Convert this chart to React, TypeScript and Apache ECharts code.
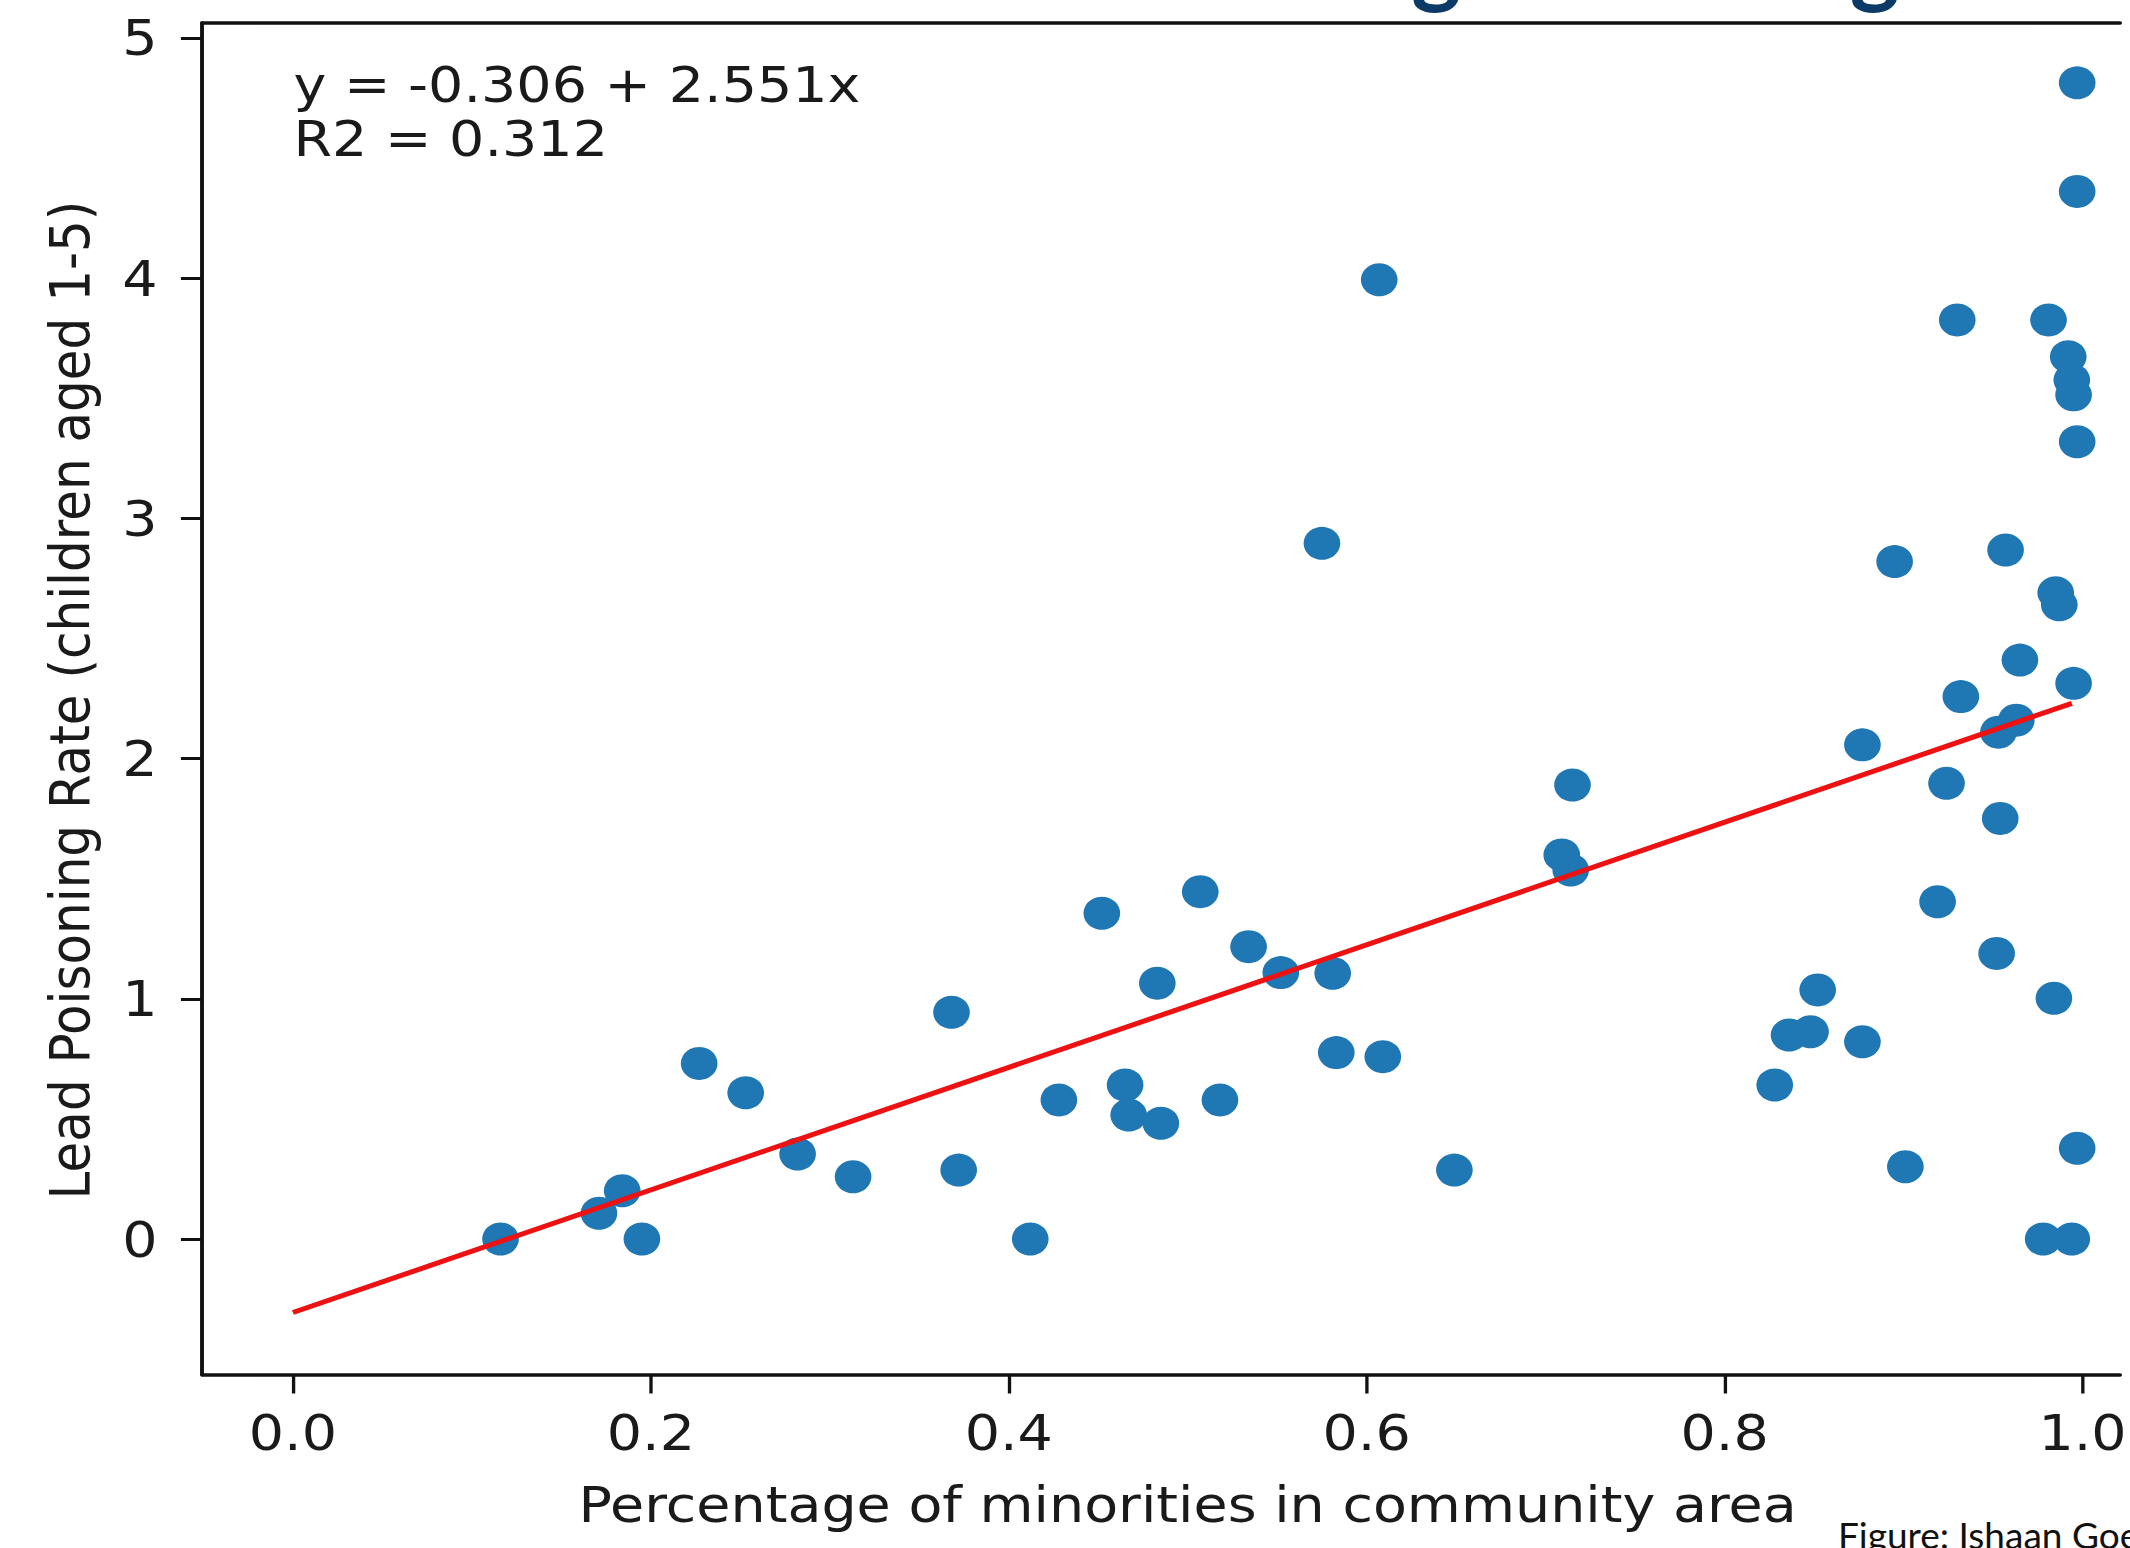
import React, { useEffect, useRef } from "react";
import * as echarts from "echarts";

// ---- data ----
const pctMinorities = [
  0.116, 0.171, 0.184, 0.195, 0.227, 0.253, 0.282, 0.313, 0.368, 0.372,
  0.412, 0.428, 0.452, 0.465, 0.467, 0.483, 0.485, 0.507, 0.518, 0.534,
  0.552, 0.575, 0.581, 0.583, 0.607, 0.609, 0.649, 0.709, 0.714, 0.715,
  0.828, 0.836, 0.848, 0.852, 0.877, 0.877, 0.895, 0.901, 0.919, 0.924,
  0.930, 0.932, 0.952, 0.953, 0.954, 0.957, 0.963, 0.965, 0.978, 0.981,
  0.984, 0.985, 0.987, 0.992, 0.994, 0.994, 0.995, 0.995, 0.997, 0.997,
  0.997, 0.997,
];
const leadRate = [
  0.0, 0.107, 0.201, 0.0, 0.731, 0.609, 0.354, 0.259, 0.944, 0.287,
  0.0, 0.579, 1.356, 0.641, 0.516, 1.065, 0.482, 1.446, 0.579, 1.217,
  1.109, 2.896, 1.106, 0.776, 3.993, 0.759, 0.287, 1.599, 1.536, 1.89,
  0.641, 0.849, 0.863, 1.037, 0.821, 2.057, 2.82, 0.301, 1.404, 1.897,
  3.826, 2.258, 1.189, 2.11, 1.751, 2.868, 2.16, 2.41, 0.0, 3.826,
  1.002, 2.69, 2.64, 3.673, 0.0, 3.576, 3.514, 2.313, 4.813, 4.361,
  3.319, 0.378,
];
// regression line end points (y = -0.306 + 2.551x)
const fitX = [0.0, 0.994];
const fitY = [-0.306, 2.23];

const xTicks = [0, 0.2, 0.4, 0.6, 0.8, 1.0];
const xTickLabels = ["0.0", "0.2", "0.4", "0.6", "0.8", "1.0"];
const yTicks = [0, 1, 2, 3, 4, 5];
const yTickLabels = ["0", "1", "2", "3", "4", "5"];

const xTitle = "Percentage of minorities in community area";
const yTitle = "Lead Poisoning Rate (children aged 1-5)";
const eqLine1 = "y = -0.306 + 2.551x";
const eqLine2 = "R2 = 0.312";
const caption = "Figure: Ishaan Goel";

// ---- layout ----
const W = 2130;
const H = 1548;
const S = 1.11; // horizontal stretch of the pasted figure
const CW = Math.round(W / S);

const labelFor = (ticks: number[], labels: string[]) => (v: number) => {
  const i = ticks.findIndex((t) => Math.abs(t - v) < 1e-6);
  return i >= 0 ? labels[i] : "";
};

export default function App() {
  const ref = useRef<HTMLDivElement>(null);

  useEffect(() => {
    if (!ref.current) return;
    const chart = echarts.init(ref.current, null, { renderer: "svg" });
    const font = "DejaVu Sans";
    const ink = "#1a1a1a";
    const axisLine = { show: true, onZero: false, lineStyle: { color: "#111", width: 3.5 } };
    const xMin = -0.0508;
    const xMax = 1.021;

    const option: any = {
      animation: false,
      backgroundColor: "#ffffff",
      grid: { left: 182, right: 0, top: 23, bottom: 173.5, containLabel: false },
      xAxis: [
        {
          type: "value",
          position: "bottom",
          min: xMin,
          max: xMax,
          axisLine,
          splitLine: { show: false },
          axisTick: {
            show: true,
            length: 19,
            customValues: xTicks,
            lineStyle: { color: "#111", width: 3 },
          },
          axisLabel: {
            customValues: xTicks,
            formatter: labelFor(xTicks, xTickLabels),
            fontFamily: font,
            fontSize: 50,
            color: ink,
            margin: 33,
          },
        },
        {
          type: "value",
          position: "top",
          min: xMin,
          max: xMax,
          axisLine,
          splitLine: { show: false },
          axisTick: { show: false },
          axisLabel: { show: false },
        },
      ],
      yAxis: {
        type: "value",
        min: -0.564,
        max: 5.062,
        axisLine,
        splitLine: { show: false },
        axisTick: {
          show: true,
          length: 19,
          customValues: yTicks,
          lineStyle: { color: "#111", width: 3 },
        },
        axisLabel: {
          customValues: yTicks,
          formatter: labelFor(yTicks, yTickLabels),
          fontFamily: font,
          fontSize: 50,
          color: ink,
          margin: 40,
        },
      },
      series: [
        {
          type: "scatter",
          xAxisIndex: 0,
          data: pctMinorities.map((x, i) => [x, leadRate[i]]),
          symbol: "circle",
          symbolSize: 33,
          itemStyle: { color: "#1f77b4", opacity: 1 },
          z: 2,
        },
        {
          type: "line",
          xAxisIndex: 0,
          data: fitX.map((x, i) => [x, fitY[i]]),
          symbol: "none",
          lineStyle: { color: "#ee1111", width: 5 },
          z: 3,
        },
      ],
      graphic: [
        {
          type: "text",
          x: 264.4,
          y: 84.7,
          style: { text: eqLine1, fontFamily: font, fontSize: 50, fill: ink, verticalAlign: "middle" },
        },
        {
          type: "text",
          x: 264.4,
          y: 138.7,
          style: { text: eqLine2, fontFamily: font, fontSize: 50, fill: ink, verticalAlign: "middle" },
        },
        {
          type: "text",
          x: 1070,
          y: 1504,
          style: { text: xTitle, fontFamily: font, fontSize: 50, fill: ink, align: "center", verticalAlign: "middle" },
        },
        {
          type: "text",
          x: 63,
          y: 700,
          rotation: Math.PI / 2,
          style: { text: yTitle, fontFamily: font, fontSize: 50, fill: ink, align: "center", verticalAlign: "middle" },
        },
        {
          type: "text",
          x: 1655.9,
          y: 1535,
          scaleX: 1 / S,
          style: { text: caption, fontFamily: "Lato", fontSize: 37, fill: "#111", verticalAlign: "middle" },
        },
        {
          type: "text",
          x: 1294,
          y: -41,
          scaleX: 1 / S,
          style: { text: "g", fontFamily: "Lato", fontWeight: "bold", fontSize: 95, fill: "#0b3a66", align: "center", verticalAlign: "middle" },
        },
        {
          type: "text",
          x: 1689,
          y: -41,
          scaleX: 1 / S,
          style: { text: "g", fontFamily: "Lato", fontWeight: "bold", fontSize: 95, fill: "#0b3a66", align: "center", verticalAlign: "middle" },
        },
      ],
    };

    chart.setOption(option);
    return () => chart.dispose();
  }, []);

  return (
    <div
      style={{
        position: "fixed",
        left: 0,
        top: 0,
        width: W,
        height: H,
        overflow: "hidden",
        background: "#ffffff",
      }}
    >
      <div
        ref={ref}
        style={{
          width: CW,
          height: H,
          transform: `scaleX(${W / CW})`,
          transformOrigin: "0 0",
        }}
      />
    </div>
  );
}
